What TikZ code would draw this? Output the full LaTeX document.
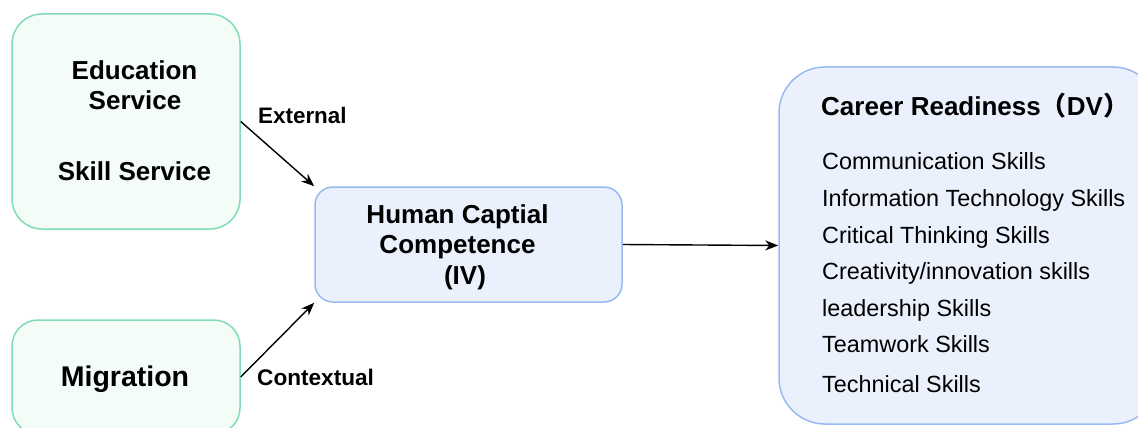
\documentclass[tikz,border=0pt]{standalone}
\usepackage{fontspec}
\setmainfont{Liberation Sans}
\newfontfamily\cjkfont{Noto Sans CJK SC}
\usetikzlibrary{arrows.meta}
\definecolor{gstroke}{RGB}{128,220,182}
\definecolor{gfill}{RGB}{243,252,246}
\definecolor{bstroke}{RGB}{152,186,242}
\definecolor{bfill}{RGB}{234,241,253}
\tikzset{
  gbox/.style={draw=gstroke, fill=gfill, line width=1.5pt, inner sep=0pt},
  bbox/.style={draw=bstroke, fill=bfill, line width=1.5pt, inner sep=0pt},
  txt/.style={inner sep=0pt, text=black},
  conn/.style={line width=1.4pt, -{Stealth[length=13pt,width=10pt,inset=4pt]}},
  big/.style={font=\bfseries\fontsize{26}{30}\selectfont},
  item/.style={txt, anchor=base west, font=\fontsize{23.4}{27}\selectfont},
}
\begin{document}
\begin{tikzpicture}[x=1pt,y=-1pt]
\clip (0,0) rectangle (1138,428);
\fill[white] (0,0) rectangle (1138,428);
% boxes
\node[gbox, rounded corners=30pt, minimum width=228pt, minimum height=215pt] (eb) at (126,121.5) {};
\node[gbox, rounded corners=26pt, minimum width=228pt, minimum height=114pt] (mg) at (126,377) {};
\node[bbox, rounded corners=18pt, minimum width=307pt, minimum height=115pt] (hc) at (468.5,244.5) {};
\node[bbox, rounded corners=46pt, minimum width=380pt, minimum height=357pt] (cr) at (969,245.5) {};
% left texts
\node[txt, anchor=base, big] (t1) at (134.5,79) {Education};
\node[txt, anchor=base, big] (t2) at (135,110) {Service};
\node[txt, anchor=base, big] (t3) at (134.5,180) {Skill Service};
\node[txt, anchor=base, font=\bfseries\fontsize{28.5}{32}\selectfont] (t4) at (125,386) {Migration};
% center texts
\node[txt, anchor=base, big] (h1) at (457.5,223) {Human Captial};
\node[txt, anchor=base, big] (h2) at (457.5,253) {Competence};
\node[txt, anchor=base, big] (h3) at (465,284) {(IV)};
% right texts
\node[txt, anchor=base west, big] (c0) at (821,115) {Career Readiness{\cjkfont （}DV{\cjkfont ）}};
\node[item] (c1) at (822,169) {Communication Skills};
\node[item] (c2) at (822,206) {Information Technology Skills};
\node[item] (c3) at (822,243) {Critical Thinking Skills};
\node[item] (c4) at (822,279) {Creativity/innovation skills};
\node[item] (c5) at (822,316) {leadership Skills};
\node[item] (c6) at (822,352) {Teamwork Skills};
\node[item] (c7) at (822,392) {Technical Skills};
% connectors
\draw[conn] (eb.east) -- (hc.north west);
\draw[conn] (mg.east) -- (hc.south west);
\draw[conn] (hc.east) -- (cr.west);
% connector labels
\node[txt, anchor=base west, font=\bfseries\fontsize{22.4}{26}\selectfont] (l1) at (258,123) {External};
\node[txt, anchor=base west, font=\bfseries\fontsize{22.6}{26}\selectfont] (l2) at (257,385) {Contextual};
\end{tikzpicture}
\end{document}
